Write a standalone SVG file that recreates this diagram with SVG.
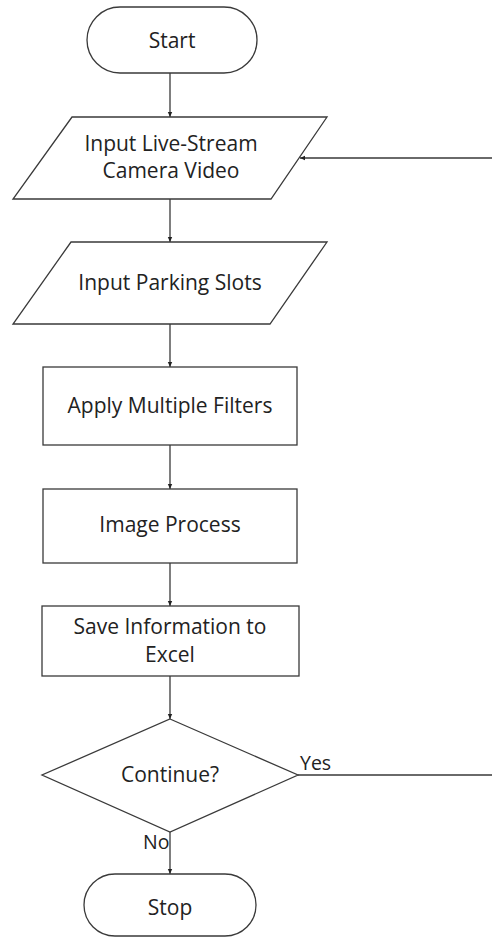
<svg xmlns="http://www.w3.org/2000/svg" width="493" height="938" viewBox="0 0 493 938">
<style>
.s{fill:#fff;stroke:#3a3a3a;stroke-width:1.3}
.t{font-family:"Open Sans","Liberation Sans",sans-serif;font-size:21px;fill:#222;text-anchor:middle}
.l{font-family:"Open Sans","Liberation Sans",sans-serif;font-size:19.5px;fill:#222}
.c{fill:none;stroke:#3a3a3a;stroke-width:1.3}
</style>
<defs>
<marker id="a" markerWidth="6" markerHeight="6" refX="5" refY="3" orient="auto" markerUnits="userSpaceOnUse">
<path d="M0,0.8 L5,3 L0,5.2 Z" fill="#222"/>
</marker>
</defs>
<g id="connectors">
<path class="c" d="M170,73 V117" marker-end="url(#a)"/>
<path class="c" d="M170,199 V242" marker-end="url(#a)"/>
<path class="c" d="M170,324 V367" marker-end="url(#a)"/>
<path class="c" d="M170,445 V489" marker-end="url(#a)"/>
<path class="c" d="M170,563 V606" marker-end="url(#a)"/>
<path class="c" d="M170,676 V719" marker-end="url(#a)"/>
<path class="c" d="M170,832 V874" marker-end="url(#a)"/>
<path class="c" d="M298,775 H492 M492,158 H300" marker-end="url(#a)"/>
<text class="l" x="300" y="770">Yes</text>
<text class="l" x="143" y="849">No</text>
</g>
<g id="start">
<rect class="s" x="87" y="7" width="170" height="66" rx="33"/>
<text class="t" x="172" y="48">Start</text>
</g>
<g id="input-video">
<polygon class="s" points="72,117 327,117 271,199 13,199"/>
<text class="t" x="171" y="151">Input Live-Stream</text>
<text class="t" x="171" y="178">Camera Video</text>
</g>
<g id="input-slots">
<polygon class="s" points="71,242 327,242 270,324 13,324"/>
<text class="t" x="170" y="290">Input Parking Slots</text>
</g>
<g id="filters">
<rect class="s" x="43" y="367" width="254" height="78"/>
<text class="t" x="170" y="413">Apply Multiple Filters</text>
</g>
<g id="image-process">
<rect class="s" x="43" y="489" width="254" height="74"/>
<text class="t" x="170" y="532">Image Process</text>
</g>
<g id="save">
<rect class="s" x="42" y="606" width="257" height="70"/>
<text class="t" x="170" y="634">Save Information to</text>
<text class="t" x="170" y="662">Excel</text>
</g>
<g id="continue">
<polygon class="s" points="170,719 298,775 170,832 42,775"/>
<text class="t" x="170" y="782">Continue?</text>
</g>
<g id="stop">
<rect class="s" x="84" y="874" width="172" height="62" rx="31"/>
<text class="t" x="170" y="915">Stop</text>
</g>
</svg>
